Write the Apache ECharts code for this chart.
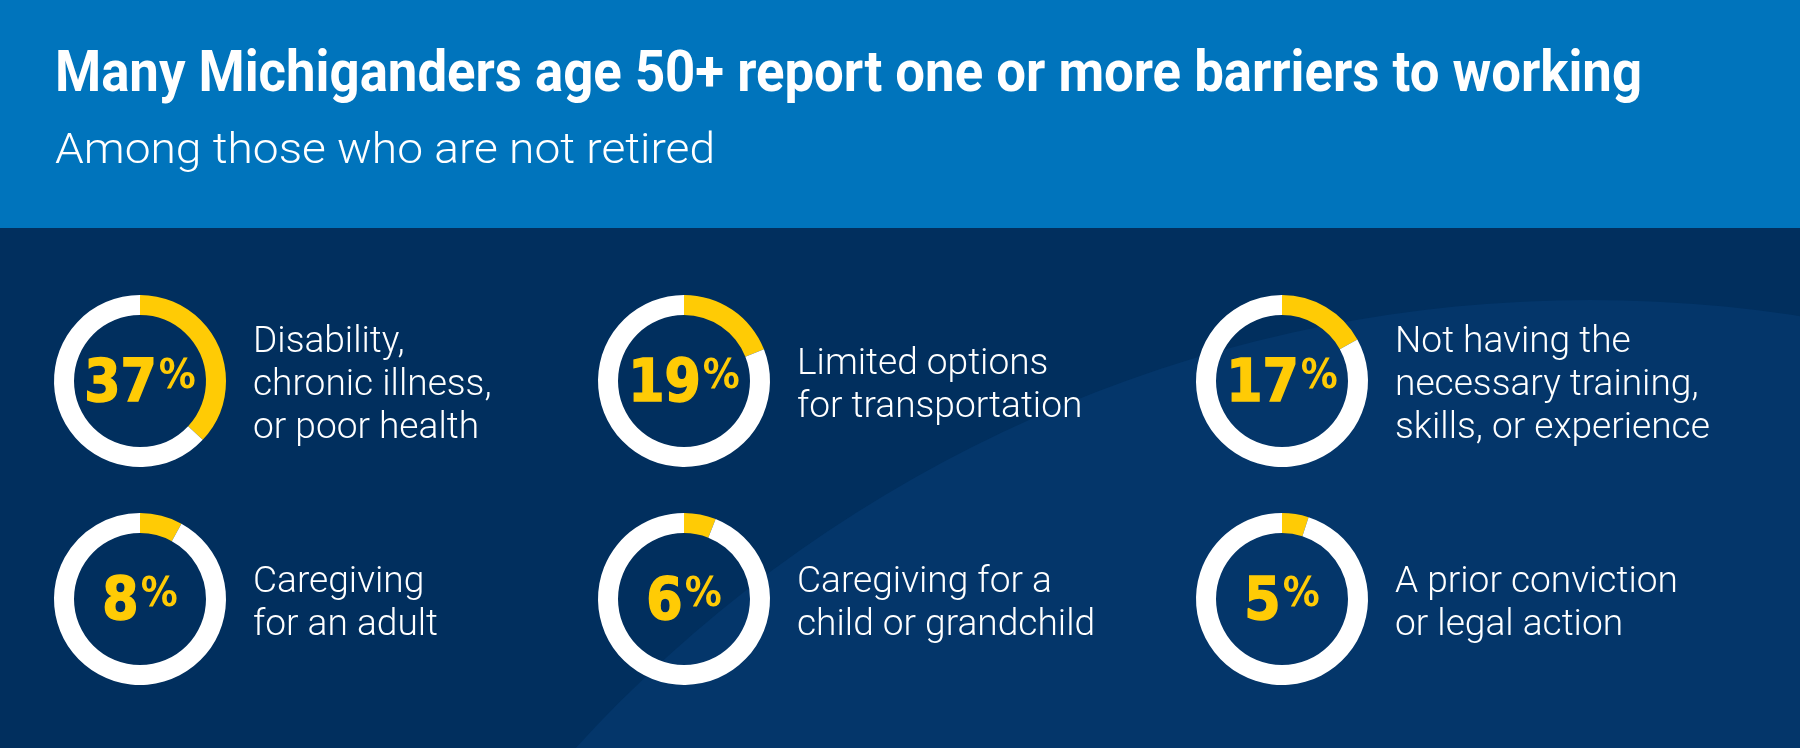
<!DOCTYPE html>
<html>
<head>
<meta charset="utf-8">
<script src="https://cdn.jsdelivr.net/npm/echarts@6/dist/echarts.min.js"></script>
<style>
html,body{margin:0;padding:0;background:#012f5e;}
#chart{width:1800px;height:748px;}
</style>
</head>
<body>
<div id="chart"></div>
<script>
// ---- data ----
const titleText = 'Many Michiganders age 50+ report one or more barriers to working';
const subtitleText = 'Among those who are not retired';
const categories = [
  'Disability,\nchronic illness,\nor poor health',
  'Limited options\nfor transportation',
  'Not having the\nnecessary training,\nskills, or experience',
  'Caregiving\nfor an adult',
  'Caregiving for a\nchild or grandchild',
  'A prior conviction\nor legal action'
];
const values = [37, 19, 17, 8, 6, 5];

// ---- layout ----
const colX = [140, 684, 1282];
const rowY = [381, 599];
const YELLOW = '#FFCB05';
const NAVY = '#012f5e';
const NAVY2 = '#04366a';
const HEADER = '#0074bc';
const numFont = '"DejaVu Sans Condensed", "DejaVu Sans", sans-serif';
const boldFont = 'Roboto, "Noto Sans", sans-serif';
const lightFont = 'Roboto, "Noto Sans", sans-serif';

// fit the title's width to the reference width
const ctx = document.createElement('canvas').getContext('2d');
ctx.font = 'bold 58px ' + boldFont;
const titleScale = 1587 / ctx.measureText(titleText).width;
ctx.font = '300 42px ' + lightFont;
const subScale = 660 / ctx.measureText(subtitleText).width;

const chart = echarts.init(document.getElementById('chart'), null, {renderer: 'canvas'});

const series = values.map((v, i) => {
  const cx = colX[i % 3], cy = rowY[Math.floor(i / 3)];
  return {
    type: 'pie',
    silent: true,
    z: 5,
    center: [cx, cy],
    radius: [66, 86],
    startAngle: 90,
    clockwise: true,
    avoidLabelOverlap: false,
    labelLine: {show: false},
    emphasis: {disabled: true},
    itemStyle: {borderWidth: 0},
    data: [
      {value: v, name: categories[i], itemStyle: {color: YELLOW},
        label: {
          show: true, position: 'center',
          offset: [0, 5],
          formatter: '{n|' + v + '}{p|%}',
          rich: {
            n: {fontFamily: numFont, fontWeight: 'bold', fontSize: 58, lineHeight: 58, color: YELLOW,
                textBorderColor: YELLOW, textBorderWidth: 1.5, verticalAlign: 'bottom'},
            p: {fontFamily: numFont, fontWeight: 'bold', fontSize: 41, lineHeight: 58, color: YELLOW,
                verticalAlign: 'top', padding: [0, 0, 0, 2]}
          }
        }},
      {value: 100 - v, name: 'rest', itemStyle: {color: '#ffffff'}, label: {show: false}}
    ]
  };
});

const textEls = categories.map((c, i) => ({
  type: 'text',
  z: 10,
  x: colX[i % 3] + 113,
  y: rowY[Math.floor(i / 3)] + 5,
  scaleX: 1.03,
  style: {
    text: c,
    fill: '#ffffff',
    font: '300 36px ' + lightFont,
    lineHeight: 43,
    verticalAlign: 'middle',
    align: 'left'
  }
}));

chart.setOption({
  backgroundColor: NAVY,
  animation: false,
  graphic: [
    {type: 'circle', z: 0, silent: true, shape: {cx: 1590, cy: 1672, r: 1372}, style: {fill: NAVY2}},
    {type: 'rect', z: 1, silent: true, shape: {x: 0, y: 0, width: 1800, height: 228}, style: {fill: HEADER}},
    {type: 'text', z: 10, x: 55, y: 76, scaleX: titleScale, style: {text: titleText, fill: '#ffffff',
      font: 'bold 58px ' + boldFont, verticalAlign: 'middle', align: 'left'}},
    {type: 'text', z: 10, x: 55, y: 152, scaleX: subScale, style: {text: subtitleText, fill: '#ffffff',
      font: '300 42px ' + lightFont, verticalAlign: 'middle', align: 'left'}}
  ].concat(textEls),
  series: series
});
</script>
</body>
</html>
